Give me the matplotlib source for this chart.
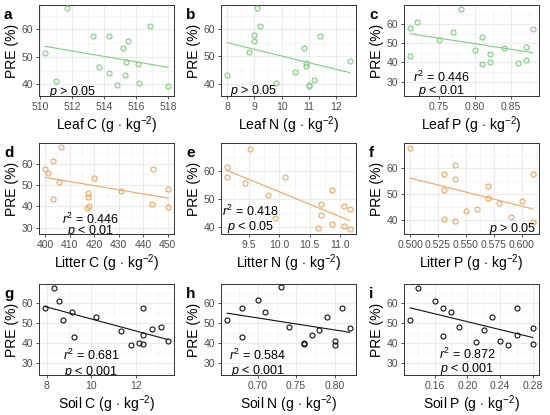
import numpy as np
import matplotlib
matplotlib.use('Agg')
import matplotlib.pyplot as plt
from matplotlib.ticker import MultipleLocator, AutoMinorLocator, FormatStrFormatter

plt.rcParams['font.family'] = ['Liberation Sans', 'DejaVu Sans']
plt.rcParams['mathtext.fontset'] = 'custom'
plt.rcParams['mathtext.rm'] = 'Liberation Sans'
plt.rcParams['mathtext.it'] = 'Liberation Sans:italic'

# PRE (%) of the 16 samples, same order for every x array below
pre = [67.8, 61.3, 57.7, 57.6, 55.6, 53.2, 51.5, 48.2, 47.4, 46.4, 44.2, 43.3, 41.2, 40.3, 39.6, 39.2]

leaf_c = [511.7, 516.9, 513.3, 514.3, 515.5, 515.2, 510.3, 515.4, 516.1, 513.7, 514.3, 515.3, 511.0, 516.2, 514.8, 518.0]
leaf_n = [9.1, 9.2, 9.0, 11.4, 9.0, 10.8, 8.8, 12.5, 10.9, 10.9, 10.5, 8.0, 11.2, 9.8, 11.0, 11.0]
leaf_p = [0.78, 0.72, 0.71, 0.88, 0.77, 0.81, 0.75, 0.87, 0.84, 0.80, 0.82, 0.71, 0.87, 0.82, 0.86, 0.81]
litter_c = [406.5, 403.0, 444.0, 400.0, 401.0, 420.0, 405.5, 450.0, 431.0, 417.5, 417.5, 403.0, 443.5, 418.0, 450.0, 417.0]
litter_n = [9.52, 9.14, 10.10, 9.14, 9.43, 10.87, 9.81, 10.68, 11.06, 11.16, 10.68, 9.92, 10.87, 11.06, 10.63, 11.16]
litter_p = [0.50, 0.54, 0.53, 0.61, 0.54, 0.57, 0.53, 0.57, 0.60, 0.58, 0.56, 0.55, 0.59, 0.53, 0.54, 0.61]
soil_c = [8.33, 8.55, 12.33, 7.93, 9.13, 10.22, 8.73, 13.1, 12.73, 11.31, 12.33, 9.24, 13.43, 12.12, 12.33, 11.8]
soil_n = [0.73, 0.70, 0.81, 0.68, 0.71, 0.79, 0.66, 0.74, 0.82, 0.78, 0.77, 0.68, 0.80, 0.76, 0.76, 0.80]
soil_p = [0.14, 0.16, 0.26, 0.17, 0.18, 0.23, 0.13, 0.19, 0.28, 0.22, 0.26, 0.17, 0.24, 0.21, 0.28, 0.25]

x_names = ['Leaf C', 'Leaf N', 'Leaf P', 'Litter C', 'Litter N', 'Litter P', 'Soil C', 'Soil N', 'Soil P']
r2_labels = [None, None, '0.446', '0.446', '0.418', None, '0.681', '0.584', '0.872']
p_labels = ['> 0.05', '> 0.05', '< 0.01', '< 0.01', '< 0.05', '> 0.05', '< 0.001', '< 0.001', '< 0.001']
letters = list('abcdefghi')

green = '#7DCF7D'
orange = '#F6A35E'
black = '#111111'

# per panel: x data, colour, x tick step, tick format, ylim, (text x, r2 y, p y)
panels = [
    (leaf_c, green, 2, '%d', (35.7, 68.9), (512.0, None, 37.2)),
    (leaf_n, green, 1, '%d', (35.4, 68.9), (8.98, None, 37.2)),
    (leaf_p, green, 0.05, '%.2f', (22.5, 69.9), (0.753, 32.1, 25.1)),
    (litter_c, orange, 10, '%d', (27.0, 69.8), (418.5, 34.1, 28.6)),
    (litter_n, orange, 0.5, '%.1f', (37.6, 69.8), (9.52, 45.6, 40.2)),
    (litter_p, orange, 0.025, '%.3f', (34.5, 69.6), (0.5915, None, 36.6)),
    (soil_c, black, 2, '%d', (24.2, 69.7), (10.0, 34.2, 25.8)),
    (soil_n, black, 0.05, '%.2f', (24.2, 69.5), (0.70, 34.2, 26.3)),
    (soil_p, black, 0.04, '%.2f', (24.0, 69.6), (0.20, 34.4, 27.1)),
]

W, H = 550, 415
fig = plt.figure(figsize=(W / 100, H / 100), dpi=100)
col_left = [39, 221, 404]
row_top = [5, 143, 284]
pw, ph = 135, 91

y_pre = np.array(pre)
for i, (xs, col, xstep, xfmt, ylim, txt) in enumerate(panels):
    r, c = divmod(i, 3)
    ax = fig.add_axes([col_left[c] / W, 1 - (row_top[r] + ph) / H, pw / W, ph / H])
    xs = np.array(xs)
    ax.grid(True, which='major', color='#EBEBEB', lw=0.8, zorder=0)
    ax.grid(True, which='minor', color='#F2F2F2', lw=0.5, zorder=0)
    ax.set_axisbelow(True)
    k, b = np.polyfit(xs, y_pre, 1)
    xx = np.array([xs.min(), xs.max()])
    ax.plot(xx, k * xx + b, color=col, lw=0.8, zorder=2)
    ax.plot(xs, y_pre, 'o', mfc='none', mec=col, ms=3.6, mew=0.8, zorder=3)
    ax.set_ylim(*ylim)
    ax.xaxis.set_major_locator(MultipleLocator(xstep))
    ax.xaxis.set_major_formatter(FormatStrFormatter(xfmt))
    ax.yaxis.set_major_locator(MultipleLocator(10))
    ax.xaxis.set_minor_locator(AutoMinorLocator(2))
    ax.yaxis.set_minor_locator(AutoMinorLocator(2))
    ax.tick_params(which='major', length=2.5, width=0.6, color='#333333',
                   labelsize=7.5, labelcolor='#4D4D4D', pad=1.5)
    ax.tick_params(which='minor', length=0)
    for s in ax.spines.values():
        s.set_color('#333333')
        s.set_linewidth(0.7)
    ax.set_xlabel(x_names[i] + r' (g$\,\cdot\,$kg$^{-2}$)', fontsize=10, labelpad=2)
    ax.set_ylabel('PRE (%)', fontsize=10, labelpad=2)
    tx, ry, py = txt
    if r2_labels[i] is not None:
        ax.text(tx, ry, r'$\mathit{r}^{2}$ = ' + r2_labels[i], fontsize=9,
                ha='center', va='center', clip_on=True)
    ax.text(tx, py, r'$\mathit{p}$ ' + p_labels[i], fontsize=9,
            ha='center', va='center', clip_on=True)
    fig.text((col_left[c] - 35) / W, 1 - (row_top[r] + 3) / H, letters[i],
             fontsize=11, fontweight='bold', ha='left', va='top')

fig.savefig('out.png', dpi=100)
